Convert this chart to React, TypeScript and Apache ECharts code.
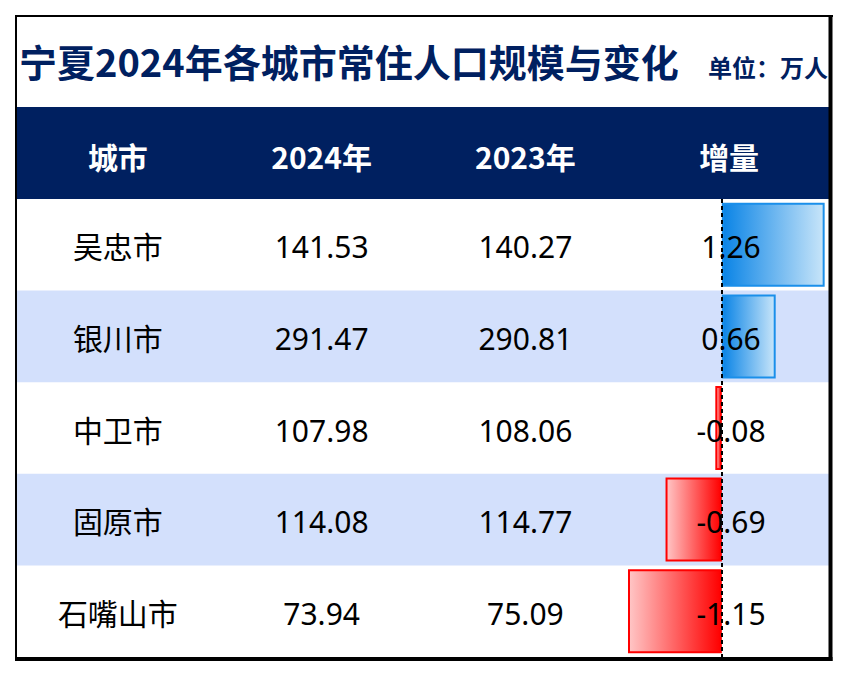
import React, { useEffect, useRef } from "react";
import * as echarts from "echarts";

const cities = ["吴忠市", "银川市", "中卫市", "固原市", "石嘴山市"];
const pop2024 = [141.53, 291.47, 107.98, 114.08, 73.94];
const pop2023 = [140.27, 290.81, 108.06, 114.77, 75.09];
const increase = [1.26, 0.66, -0.08, -0.69, -1.15];
const columns = ["城市", "2024年", "2023年", "增量"];
const titleText = "宁夏2024年各城市常住人口规模与变化";
const unitText = "单位：万人";

const NAVY = "#002060";
const STRIPE = "#d3e0fc";
const FONT = "'Noto Sans', 'Noto Sans CJK SC', sans-serif";
const CJK = "'Noto Sans CJK SC', 'Noto Sans', sans-serif";

export default function App() {
  const ref = useRef<HTMLDivElement>(null);
  useEffect(() => {
    if (!ref.current) return;
    const chart = echarts.init(ref.current, undefined, { renderer: "svg" });

    const barData = increase.map((v) => ({
      value: v,
      itemStyle:
        v >= 0
          ? {
              color: new echarts.graphic.LinearGradient(0, 0, 1, 0, [
                { offset: 0, color: "#0a84e6" },
                { offset: 1, color: "#c8e5f9" },
              ]),
              borderColor: "#1a8fea",
              borderWidth: 2,
            }
          : {
              color: new echarts.graphic.LinearGradient(0, 0, 1, 0, [
                { offset: 0, color: "#ffc6c6" },
                { offset: 1, color: "#ff0000" },
              ]),
              borderColor: "#ff0000",
              borderWidth: 2,
            },
    }));

    const option: any = {
      animation: false,
      backgroundColor: "#ffffff",
      grid: [
        { left: 16, top: 199, width: 815, height: 458, containLabel: false },
        { left: 628, top: 199, width: 204, height: 458, containLabel: false },
      ],
      xAxis: [
        {
          gridIndex: 0,
          type: "category",
          data: columns,
          position: "top",
          z: 10,
          axisLine: { show: false },
          axisTick: { show: false },
          splitLine: { show: false },
          axisLabel: {
            color: "#ffffff",
            fontWeight: "bold",
            fontSize: 30,
            fontFamily: CJK,
            margin: 28,
          },
        },
        {
          gridIndex: 1,
          type: "value",
          min: -1.15,
          max: 1.35,
          show: false,
          splitLine: { show: false },
        },
      ],
      yAxis: [
        {
          gridIndex: 0,
          type: "category",
          data: cities,
          inverse: true,
          show: false,
        },
        {
          gridIndex: 1,
          type: "category",
          data: cities,
          inverse: true,
          show: false,
        },
      ],
      graphic: [
        {
          type: "rect",
          z: -10,
          shape: { x: 16, y: 107, width: 815, height: 92 },
          style: { fill: NAVY },
        },
        {
          type: "text",
          x: 19,
          y: 60,
          style: {
            text: titleText,
            fill: NAVY,
            font: `bold 38px ${CJK}`,
            verticalAlign: "middle",
            align: "left",
          },
        },
        {
          type: "text",
          x: 828,
          y: 66,
          style: {
            text: unitText,
            fill: NAVY,
            font: `bold 24px ${CJK}`,
            verticalAlign: "middle",
            align: "right",
          },
        },
        { type: "line", z: 100, shape: { x1: 15, y1: 16, x2: 833, y2: 16 }, style: { stroke: "#000", lineWidth: 2 } },
        { type: "line", z: 100, shape: { x1: 16, y1: 15, x2: 16, y2: 661 }, style: { stroke: "#000", lineWidth: 2 } },
        { type: "line", z: 100, shape: { x1: 830.5, y1: 15, x2: 830.5, y2: 661 }, style: { stroke: "#000", lineWidth: 4 } },
        { type: "line", z: 100, shape: { x1: 15, y1: 659, x2: 832.5, y2: 659 }, style: { stroke: "#000", lineWidth: 4 } },
      ],
      series: [
        {
          type: "custom",
          xAxisIndex: 0,
          yAxisIndex: 0,
          z: 0,
          silent: true,
          data: cities.map((_, i) => [0, i]),
          encode: { x: 0, y: 1 },
          renderItem: (params: any, api: any) => {
            const row = api.value(1);
            const yc = api.coord([0, row])[1];
            const bandH = api.size([0, 1])[1];
            const cs = params.coordSys;
            const children: any[] = [];
            if (row % 2 === 1) {
              children.push({
                type: "rect",
                shape: { x: cs.x, y: yc - bandH / 2, width: cs.width, height: bandH },
                style: { fill: STRIPE },
              });
            }
            const texts = [cities[row], pop2024[row].toFixed(2), pop2023[row].toFixed(2)];
            texts.forEach((t, c) => {
              children.push({
                type: "text",
                x: api.coord([c, row])[0],
                y: yc + 2,
                style: {
                  text: t,
                  fill: "#000",
                  font: `30px ${FONT}`,
                  align: "center",
                  verticalAlign: "middle",
                },
              });
            });
            return { type: "group", children };
          },
        },
        {
          type: "bar",
          xAxisIndex: 1,
          yAxisIndex: 1,
          z: 3,
          barWidth: 84,
          data: barData,
          markLine: {
            silent: true,
            symbol: "none",
            label: { show: false },
            lineStyle: { color: "#000", type: [4, 3], width: 2 },
            data: [{ xAxis: 0 }],
          },
        },
        {
          type: "custom",
          xAxisIndex: 1,
          yAxisIndex: 1,
          z: 8,
          silent: true,
          data: increase.map((v, i) => [v, i]),
          encode: { x: 0, y: 1 },
          renderItem: (params: any, api: any) => {
            const row = api.value(1);
            const yc = api.coord([0, row])[1];
            const cs = params.coordSys;
            return {
              type: "text",
              x: cs.x + cs.width / 2 + 1,
              y: yc + 2,
              style: {
                text: increase[row].toFixed(2),
                fill: "#000",
                font: `30px ${FONT}`,
                align: "center",
                verticalAlign: "middle",
              },
            };
          },
        },
      ],
    };

    chart.setOption(option);
    return () => chart.dispose();
  }, []);

  return (
    <div
      ref={ref}
      style={{ position: "fixed", left: 0, top: 0, width: 848, height: 676, background: "#fff" }}
    />
  );
}
